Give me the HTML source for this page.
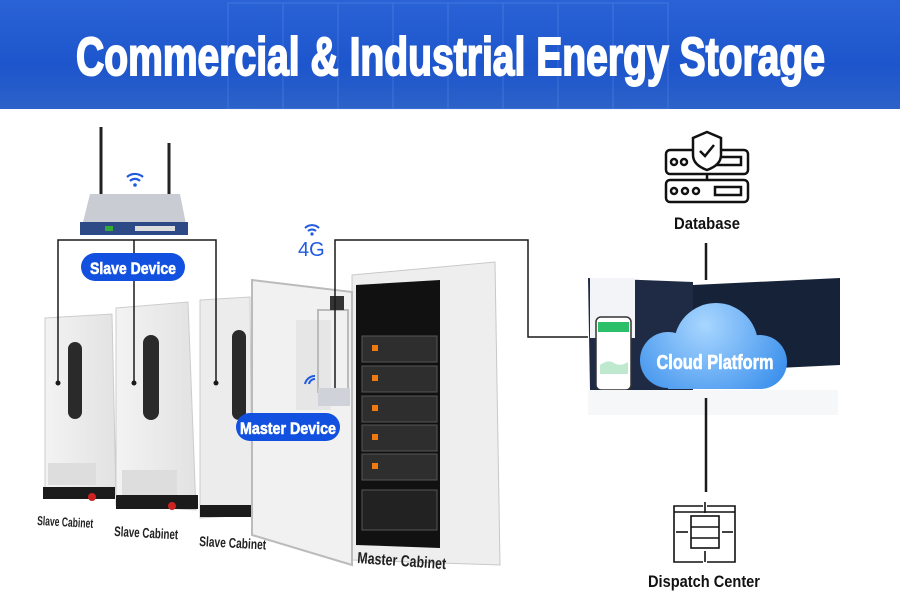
<!DOCTYPE html>
<html><head><meta charset="utf-8"><style>
html,body{margin:0;padding:0;background:#fff}
svg{display:block}
text{font-family:"Liberation Sans Narrow","Liberation Sans",sans-serif;font-weight:bold}
</style></head><body>
<svg width="900" height="596" viewBox="0 0 900 596" xmlns="http://www.w3.org/2000/svg">
<defs>
<linearGradient id="hdr" x1="0" y1="0" x2="0" y2="1"><stop offset="0" stop-color="#2a63d6"/><stop offset="0.6" stop-color="#1d55cc"/><stop offset="1" stop-color="#2c62c9"/></linearGradient>
<radialGradient id="cl" gradientUnits="userSpaceOnUse" cx="705" cy="325" r="95"><stop offset="0" stop-color="#a8d6ff"/><stop offset="1" stop-color="#3a8fec"/></radialGradient>
<linearGradient id="cab" x1="0" x2="1"><stop offset="0" stop-color="#f3f3f3"/><stop offset="1" stop-color="#e2e2e2"/></linearGradient>
</defs>
<rect x="0" y="0" width="900" height="109" fill="url(#hdr)"/>
<g opacity="0.25" fill="none" stroke="#8fb4ff">
<rect x="228" y="3" width="440" height="106"/>
<line x1="283" y1="3" x2="283" y2="109"/><line x1="338" y1="3" x2="338" y2="109"/><line x1="393" y1="3" x2="393" y2="109"/><line x1="448" y1="3" x2="448" y2="109"/><line x1="503" y1="3" x2="503" y2="109"/><line x1="558" y1="3" x2="558" y2="109"/><line x1="613" y1="3" x2="613" y2="109"/>
</g>
<text x="76" y="75" font-size="54" fill="#fff" stroke="#fff" stroke-width="2" textLength="749" lengthAdjust="spacingAndGlyphs">Commercial &amp; Industrial Energy Storage</text>

<line x1="101" y1="127" x2="101" y2="196" stroke="#222" stroke-width="3"/>
<line x1="169" y1="143" x2="169" y2="196" stroke="#222" stroke-width="3"/>
<polygon points="90,194 180,194 188,234 80,234" fill="#c9ccd3"/>
<rect x="80" y="222" width="108" height="13" fill="#2d4a86"/>
<rect x="135" y="226" width="40" height="5" fill="#ddd"/>
<rect x="105" y="226" width="8" height="5" fill="#3a3"/>
<g fill="none" stroke="#1f5ae0" stroke-width="2.2"><path d="M127,177 a12,12 0 0 1 16,0"/><path d="M130,181 a7,7 0 0 1 10,0"/></g><circle cx="135" cy="185" r="1.8" fill="#1f5ae0"/>

<g>
<polygon points="200,300 250,297 252,515 200,518" fill="#ececec" stroke="#ccc"/>
<rect x="232" y="330" width="14" height="90" rx="7" fill="#2a2a2a"/>
<rect x="200" y="505" width="52" height="12" fill="#1b1b1b"/>
<polygon points="116,308 188,302 196,510 116,505" fill="url(#cab)" stroke="#ccc"/>
<rect x="143" y="335" width="16" height="85" rx="8" fill="#2a2a2a"/>
<rect x="122" y="470" width="55" height="26" fill="#ddd"/>
<rect x="116" y="495" width="82" height="14" fill="#1b1b1b"/>
<circle cx="172" cy="506" r="4" fill="#c22"/>
<polygon points="45,318 112,314 116,495 45,490" fill="url(#cab)" stroke="#ccc"/>
<rect x="68" y="342" width="14" height="77" rx="7" fill="#2a2a2a"/>
<rect x="48" y="463" width="48" height="22" fill="#ddd"/>
<rect x="43" y="487" width="72" height="12" fill="#1b1b1b"/>
<circle cx="92" cy="497" r="4" fill="#c22"/>
</g>

<polygon points="352,275 495,262 500,565 352,560" fill="#eeeeee" stroke="#c8c8c8"/>
<polygon points="356,285 440,280 440,548 356,545" fill="#111"/>
<g fill="#2e2e2e" stroke="#555">
<rect x="362" y="336" width="75" height="26"/><rect x="362" y="366" width="75" height="26"/><rect x="362" y="396" width="75" height="26"/><rect x="362" y="425" width="75" height="26"/><rect x="362" y="454" width="75" height="26"/>
</g>
<g fill="#f07a10"><rect x="372" y="345" width="6" height="6"/><rect x="372" y="375" width="6" height="6"/><rect x="372" y="405" width="6" height="6"/><rect x="372" y="434" width="6" height="6"/><rect x="372" y="463" width="6" height="6"/></g>
<rect x="362" y="490" width="75" height="40" fill="#222" stroke="#555"/>
<polygon points="252,280 352,292 352,565 252,535" fill="#f1f1f1" stroke="#bbb" stroke-width="2"/>
<rect x="296" y="320" width="35" height="90" fill="#e6e6e6"/>
<rect x="318" y="310" width="30" height="82" fill="none" stroke="#bbb" stroke-width="2"/>
<rect x="318" y="388" width="32" height="18" fill="#cfd2d8"/>
<rect x="330" y="296" width="14" height="14" fill="#333"/>
<g fill="none" stroke="#1f5ae0" stroke-width="2"><path d="M305,384 a10,10 0 0 1 10,-8"/><path d="M309,384 a6,6 0 0 1 6,-5"/></g>

<g fill="none" stroke="#1f5ae0" stroke-width="2"><path d="M305,228 a10,10 0 0 1 14,0"/><path d="M308,231 a6,6 0 0 1 8,0"/></g><circle cx="312" cy="234" r="1.6" fill="#1f5ae0"/>
<text x="298" y="256" font-size="20" fill="#1f5ae0" font-family="Liberation Sans" style="font-weight:normal">4G</text>

<g stroke="#1a1a1a" stroke-width="1.5" fill="none">
<polyline points="58,383 58,240 216,240 216,383"/>
<line x1="134" y1="240" x2="134" y2="383"/>
<polyline points="335,388 335,240 528,240 528,337 588,337"/>
</g>
<g fill="#1a1a1a"><circle cx="58" cy="383" r="2.5"/><circle cx="134" cy="383" r="2.5"/><circle cx="216" cy="383" r="2.5"/></g>

<rect x="81" y="253" width="104" height="28" rx="14" fill="#1250e0"/>
<text x="133" y="274" font-size="17" fill="#fff" stroke="#fff" stroke-width="0.6" text-anchor="middle" textLength="86" lengthAdjust="spacingAndGlyphs">Slave Device</text>
<rect x="236" y="413" width="104" height="28" rx="14" fill="#1250e0"/>
<text x="288" y="434" font-size="17" fill="#fff" stroke="#fff" stroke-width="0.6" text-anchor="middle" textLength="96" lengthAdjust="spacingAndGlyphs">Master Device</text>

<text x="37" y="525" font-size="13" fill="#222" transform="rotate(3 37 525)" textLength="56" lengthAdjust="spacingAndGlyphs">Slave Cabinet</text>
<text x="114" y="536" font-size="14" fill="#222" transform="rotate(3 114 536)" textLength="64" lengthAdjust="spacingAndGlyphs">Slave Cabinet</text>
<text x="199" y="546" font-size="14" fill="#222" transform="rotate(3 199 546)" textLength="67" lengthAdjust="spacingAndGlyphs">Slave Cabinet</text>
<text x="357" y="563" font-size="16" fill="#222" transform="rotate(4 357 563)" textLength="89" lengthAdjust="spacingAndGlyphs">Master Cabinet</text>

<g fill="none" stroke="#111" stroke-width="2.5">
<rect x="666" y="150" width="82" height="24" rx="4"/>
<rect x="666" y="180" width="82" height="22" rx="4"/>
<line x1="707" y1="174" x2="707" y2="180"/>
<circle cx="674" cy="162" r="3"/><circle cx="684" cy="162" r="3"/>
<circle cx="674" cy="191" r="3"/><circle cx="685" cy="191" r="3"/><circle cx="696" cy="191" r="3"/>
<rect x="715" y="157" width="26" height="8"/><rect x="715" y="187" width="26" height="8"/>
<path d="M707,132 L721,138 L721,155 Q721,165 707,170 Q693,165 693,155 L693,138 Z" fill="#fff"/>
<polyline points="700,151 705,156 714,145"/>
</g>
<text x="707" y="229" font-size="17" fill="#111" text-anchor="middle" textLength="66" lengthAdjust="spacingAndGlyphs">Database</text>
<line x1="706" y1="243" x2="706" y2="280" stroke="#1a1a1a" stroke-width="2.5"/>

<polygon points="588,278 693,282 693,390 590,390" fill="#1f2b45"/>
<rect x="590" y="278" width="45" height="60" fill="#f2f4f8"/>
<polygon points="693,285 840,278 840,365 693,372" fill="#162238"/>
<rect x="596" y="317" width="35" height="73" rx="5" fill="#fff" stroke="#333" stroke-width="1.5"/>
<rect x="598" y="322" width="31" height="10" fill="#2bbf6a"/>
<path d="M600,365 q8,-6 14,-2 t14,-1 v12 h-28z" fill="#bfe9cf"/>
<rect x="588" y="390" width="250" height="25" fill="#f6f7f9"/>
<g fill="url(#cl)">
<circle cx="668" cy="360" r="28"/>
<circle cx="716" cy="345" r="42"/>
<circle cx="760" cy="362" r="27"/>
<rect x="668" y="345" width="92" height="44"/>
</g>
<text x="715" y="369" font-size="20" fill="#fff" stroke="#fff" stroke-width="0.6" text-anchor="middle" textLength="117" lengthAdjust="spacingAndGlyphs">Cloud Platform</text>
<line x1="706" y1="398" x2="706" y2="492" stroke="#1a1a1a" stroke-width="2.5"/>

<g fill="none" stroke="#111" stroke-width="1.6">
<polyline points="703,506 674,506 674,562 703,562"/>
<polyline points="707,506 735,506 735,562 707,562"/>
<line x1="674" y1="512" x2="735" y2="512"/>
<rect x="691" y="516" width="28" height="32"/>
<line x1="691" y1="527" x2="719" y2="527"/><line x1="691" y1="538" x2="719" y2="538"/>
<line x1="705" y1="502" x2="705" y2="513"/><line x1="705" y1="551" x2="705" y2="562"/>
<line x1="676" y1="532" x2="688" y2="532"/><line x1="722" y1="532" x2="733" y2="532"/>
</g>
<text x="704" y="587" font-size="17" fill="#111" text-anchor="middle" textLength="112" lengthAdjust="spacingAndGlyphs">Dispatch Center</text>
</svg>
</body></html>
